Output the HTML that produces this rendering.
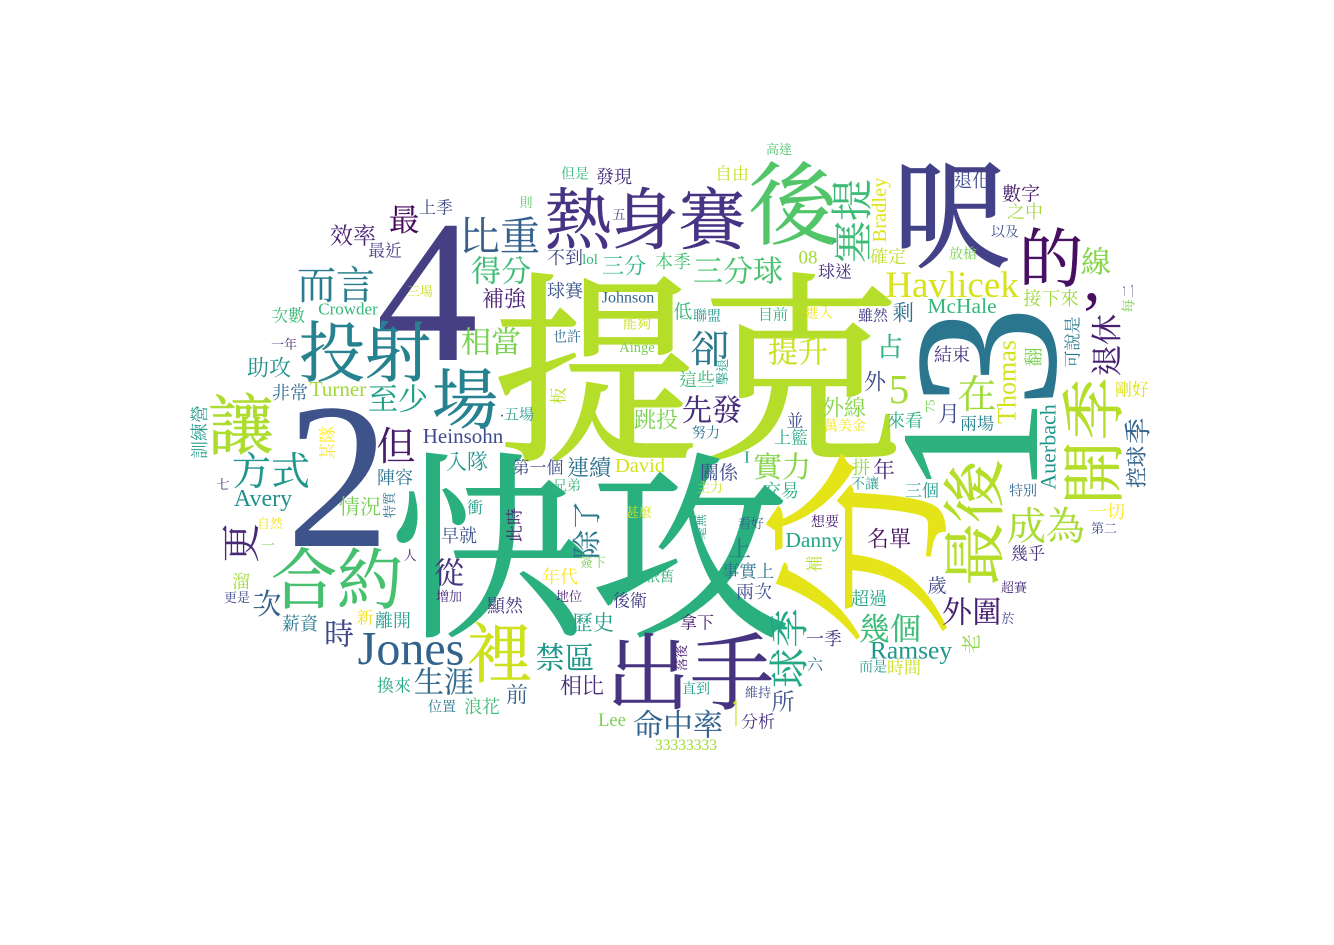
<!DOCTYPE html>
<html lang="zh-Hant">
<head>
<meta charset="utf-8">
<title>Word cloud</title>
<style>
html,body{margin:0;padding:0;background:#fff;}
svg{display:block;}
text{font-family:"Noto Serif CJK SC","Liberation Serif",serif;text-anchor:middle;fill:currentColor;stroke:currentColor;}
.xl text{stroke-width:1.6;}
.lg text{stroke-width:.5;}
.md text{stroke-width:.15;}
.sm text{stroke-width:0;}
text.l{font-family:"Liberation Serif",serif;stroke-width:0;}
</style>
</head>
<body>
<svg width="1334" height="945" viewBox="0 0 1334 945" xmlns="http://www.w3.org/2000/svg">
<rect width="1334" height="945" fill="#ffffff"/>
<g class="xl">
<text x="698" y="367" dy=".38em" font-size="205" color="#b5de2b">提克</text>
<text x="590" y="545" dy=".38em" font-size="200" color="#2ab07f">快攻</text>
<text transform="translate(856 548) rotate(-90)" dy=".38em" font-size="196" color="#e5e419">分</text>
<text x="951" y="213" dy=".38em" font-size="118" color="#434187">呎</text>
<text class="l" x="338" y="546" font-size="208" color="#3e5389">2</text>
<text class="l" x="427" y="360" font-size="204" color="#463f83">4</text>
<text class="l" transform="translate(1055 357) rotate(-90)" font-size="205" color="#2a768e">3</text>
<text class="l" transform="translate(1037 447) rotate(-90)" font-size="200" color="#2db27d">1</text>
</g>
<g class="lg">
<text x="793" y="203" dy=".38em" font-size="90" color="#52c569">後</text>
<text x="645" y="218" dy=".38em" font-size="67" color="#473383">熱身賽</text>
<text x="690" y="671" dy=".38em" font-size="84" color="#463480">出手</text>
<text x="1051" y="257" dy=".38em" font-size="64" color="#470e61">的</text>
<text x="365" y="351" dy=".38em" font-size="66" color="#26828e">投射</text>
<text x="465" y="398" dy=".38em" font-size="66" color="#26828e">場</text>
<text x="241" y="424" dy=".38em" font-size="66" color="#addc30">讓</text>
<text x="337" y="578" dy=".38em" font-size="66" color="#46c06f">合約</text>
<text x="500" y="652" dy=".38em" font-size="66" color="#cde11d">裡</text>
<text class="l" x="411" y="650" dy=".3em" font-size="48" color="#33638d">Jones</text>
<text transform="translate(1092 441) rotate(-90)" dy=".38em" font-size="64" color="#b5de2b">開季</text>
<text transform="translate(973 523) rotate(-90)" dy=".38em" font-size="63" color="#b5de2b">最後</text>
<text class="l" x="1092" y="300" font-size="70" color="#470e61">,</text>
</g>
<g class="md">
<text x="500" y="235" dy=".38em" font-size="40" color="#35608d">比重</text>
<text x="336" y="284" dy=".38em" font-size="39" color="#287d8e">而言</text>
<text x="271" y="470" dy=".38em" font-size="39" color="#1f978b">方式</text>
<text x="1046" y="525" dy=".38em" font-size="39" color="#a8db34">成為</text>
<text x="396" y="445" dy=".38em" font-size="39" color="#481a6c">但</text>
<text x="710" y="348" dy=".38em" font-size="39" color="#2a788e">卻</text>
<text x="977" y="393" dy=".38em" font-size="39" color="#a0da39">在</text>
<text transform="translate(851 221) rotate(-90)" dy=".38em" font-size="42" color="#3bbb75">塞提</text>
<text transform="translate(788 648) rotate(-90)" dy=".38em" font-size="40" color="#22a884">球季</text>
<text transform="translate(240 543) rotate(-90)" dy=".38em" font-size="39" color="#482878">更</text>
<text class="l" x="952" y="285" dy=".33em" font-size="37" color="#d8e219">Havlicek</text>
<text transform="translate(1106 345) rotate(-90)" dy=".38em" font-size="31" color="#481f70">退休</text>
<text x="890" y="628" dy=".38em" font-size="31" color="#3bbb75">幾個</text>
<text x="501" y="270" dy=".38em" font-size="30" color="#3bbb75">得分</text>
<text x="738" y="270" dy=".38em" font-size="30" color="#4ac16d">三分球</text>
<text x="404" y="219" dy=".38em" font-size="31" color="#450a5c">最</text>
<text x="491" y="341" dy=".38em" font-size="30" color="#7ad151">相當</text>
<text x="398" y="398" dy=".38em" font-size="30" color="#1fa088">至少</text>
<text x="798" y="351" dy=".38em" font-size="30" color="#c8e020">提升</text>
<text x="712" y="409" dy=".38em" font-size="30" color="#472d7b">先發</text>
<text x="444" y="681" dy=".38em" font-size="30" color="#31688e">生涯</text>
<text x="565" y="657" dy=".38em" font-size="30" color="#1f968b">禁區</text>
<text x="678" y="724" dy=".38em" font-size="30" color="#33638d">命中率</text>
<text x="972" y="611" dy=".38em" font-size="30" color="#481f70">外圍</text>
<text x="449" y="572" dy=".38em" font-size="30" color="#46337f">從</text>
<text x="339" y="633" dy=".38em" font-size="30" color="#3e4989">時</text>
<text x="782" y="466" dy=".38em" font-size="29" color="#86d549">實力</text>
<text x="1096" y="261" dy=".38em" font-size="30" color="#86d549">線</text>
<text transform="translate(586 530) rotate(-90)" dy=".38em" font-size="29" color="#2a788e">除了</text>
<text x="267" y="603" dy=".38em" font-size="29" color="#35608d">次</text>
<text transform="translate(737 713) rotate(-90)" dy=".38em" font-size="29" color="#c8e020">一</text>
<text class="l" transform="translate(1007 382) rotate(-90)" dy=".33em" font-size="26" color="#d2e21b">Thomas</text>
<text class="l" x="911" y="652" dy=".26em" font-size="25.5" color="#1f968b">Ramsey</text>
<text x="890" y="346" dy=".38em" font-size="26" color="#2db27d">占</text>
<text class="l" x="899" y="403" font-size="41" color="#a8db34">5</text>
<text transform="translate(1137 431) rotate(-90)" dy=".38em" font-size="27" color="#33638d">季</text>
<text transform="translate(1136 467) rotate(-90)" dy=".38em" font-size="21" color="#33638d">控球</text>
<text class="l" transform="translate(1048 447) rotate(-90)" dy=".33em" font-size="22" color="#1f968b">Auerbach</text>
<text class="l" transform="translate(880 210) rotate(-90)" dy=".28em" font-size="20.5" color="#e2e418">Bradley</text>
</g>
<g class="sm">
<text x="436" y="207" dy=".38em" font-size="17" color="#3e4989">上季</text>
<text x="353" y="235" dy=".38em" font-size="23" color="#481f70">效率</text>
<text x="385" y="250" dy=".38em" font-size="17" color="#433e85">最近</text>
<text x="504" y="298" dy=".38em" font-size="22" color="#481f70">補強</text>
<text x="420" y="291" dy=".38em" font-size="13" color="#c8e020">三場</text>
<text x="288" y="315" dy=".38em" font-size="17" color="#3aba76">次數</text>
<text class="l" x="348" y="309" dy=".33em" font-size="17" color="#35b779">Crowder</text>
<text x="284" y="344" dy=".38em" font-size="13" color="#482878">一年</text>
<text x="269" y="367" dy=".38em" font-size="22" color="#21918c">助攻</text>
<text class="l" x="338" y="389" dy=".33em" font-size="21" color="#a0da39">Turner</text>
<text x="290" y="392" dy=".38em" font-size="18" color="#31688e">非常</text>
<text transform="translate(199 432) rotate(-90)" dy=".38em" font-size="18" color="#2a9d8e">訓練營</text>
<text transform="translate(327 443) rotate(-90)" dy=".38em" font-size="17" color="#fde725">某隊</text>
<text class="l" x="463" y="436" dy=".33em" font-size="21" color="#3e4c8a">Heinsohn</text>
<text x="519" y="414" dy=".38em" font-size="15" color="#2a9d8e">五場</text>
<text class="l" x="502" y="421" font-size="16" color="#3e4c8a">·</text>
<text x="779" y="149" dy=".38em" font-size="13" color="#4ac16d">高達</text>
<text x="575" y="173" dy=".38em" font-size="14" color="#35b779">但是</text>
<text x="614" y="176" dy=".38em" font-size="18" color="#46307e">發現</text>
<text x="732" y="173" dy=".38em" font-size="17" color="#c2df23">自由</text>
<text x="526" y="202" dy=".38em" font-size="13" color="#5cc863">則</text>
<text x="619" y="214" dy=".38em" font-size="13" color="#46327e">五</text>
<text x="565" y="257" dy=".38em" font-size="18" color="#414487">不到</text>
<text class="l" x="590" y="259" dy=".33em" font-size="15" color="#35b779">lol</text>
<text x="624" y="265" dy=".38em" font-size="22" color="#2fb47c">三分</text>
<text x="673" y="261" dy=".38em" font-size="18" color="#44bf70">本季</text>
<text class="l" x="808" y="257" dy=".33em" font-size="19" color="#a0da39">08</text>
<text x="835" y="271" dy=".38em" font-size="17" color="#46327e">球迷</text>
<text x="565" y="290" dy=".38em" font-size="18" color="#3b528b">球賽</text>
<text class="l" x="628" y="297" dy=".33em" font-size="16" color="#33638d">Johnson</text>
<text x="683" y="311" dy=".38em" font-size="19" color="#35b779">低</text>
<text x="707" y="315" dy=".38em" font-size="14" color="#1f968b">聯盟</text>
<text x="773" y="314" dy=".38em" font-size="15" color="#2fb47c">目前</text>
<text x="819" y="312" dy=".38em" font-size="14" color="#f1e51d">進入</text>
<text x="637" y="323" dy=".38em" font-size="14" color="#c8e020">能夠</text>
<text x="567" y="336" dy=".38em" font-size="14" color="#2f6c8e">也許</text>
<text class="l" x="637" y="348" dy=".28em" font-size="14.5" color="#7ad151">Ainge</text>
<text x="697" y="379" dy=".38em" font-size="18" color="#3bbb75">這些</text>
<text transform="translate(722 372) rotate(-90)" dy=".38em" font-size="13" color="#2a9d8e">擊退</text>
<text transform="translate(558 396) rotate(-90)" dy=".38em" font-size="17" color="#bddf26">板</text>
<text x="656" y="419" dy=".38em" font-size="22" color="#7ad151">跳投</text>
<text x="795" y="420" dy=".38em" font-size="17" color="#3e4989">並</text>
<text x="706" y="432" dy=".38em" font-size="14" color="#2c728e">努力</text>
<text x="791" y="437" dy=".38em" font-size="17" color="#22a884">上籃</text>
<text x="972" y="180" dy=".38em" font-size="18" color="#3e4c8a">退化</text>
<text x="1021" y="193" dy=".38em" font-size="19" color="#481b6d">數字</text>
<text x="1025" y="211" dy=".38em" font-size="18" color="#a0da39">之中</text>
<text x="1005" y="231" dy=".38em" font-size="14" color="#3e4c8a">以及</text>
<text x="888" y="256" dy=".38em" font-size="18" color="#bddf26">確定</text>
<text x="963" y="253" dy=".38em" font-size="14" color="#7ad151">放槍</text>
<text x="1051" y="298" dy=".38em" font-size="18.5" color="#9bd93c">接下來</text>
<text transform="translate(1128 291) rotate(-90)" dy=".38em" font-size="14" color="#414487">二</text>
<text transform="translate(1128 306) rotate(-90)" dy=".38em" font-size="14" color="#7ad151">每</text>
<text class="l" x="962" y="306" dy=".33em" font-size="21.5" color="#35b779">McHale</text>
<text x="873" y="315" dy=".38em" font-size="15" color="#433e85">雖然</text>
<text x="903" y="312" dy=".38em" font-size="22" color="#2c728e">剩</text>
<text x="875" y="381" dy=".38em" font-size="22" color="#3e4989">外</text>
<text x="952" y="354" dy=".38em" font-size="18" color="#46327e">結束</text>
<text transform="translate(1033 357) rotate(-90)" dy=".38em" font-size="19" color="#7ad151">翻</text>
<text transform="translate(1072 342) rotate(-90)" dy=".38em" font-size="17" color="#2a788e">可說是</text>
<text x="1132" y="389" dy=".38em" font-size="17" color="#dde318">剛好</text>
<text x="844" y="407" dy=".38em" font-size="22" color="#86d549">外線</text>
<text x="845" y="425" dy=".38em" font-size="14" color="#f1e51d">萬美金</text>
<text x="949" y="413" dy=".38em" font-size="22" color="#3e4a89">月</text>
<text x="905" y="420" dy=".38em" font-size="18" color="#28ae80">來看</text>
<text class="l" transform="translate(930 406) rotate(-90)" dy=".33em" font-size="13" color="#7ad151">75</text>
<text x="977" y="423" dy=".38em" font-size="17" color="#26828e">兩場</text>
<text x="467" y="461" dy=".38em" font-size="21" color="#1f968b">入隊</text>
<text x="395" y="477" dy=".38em" font-size="18" color="#2c728e">陣容</text>
<text x="223" y="484" dy=".38em" font-size="13" color="#482878">七</text>
<text class="l" x="263" y="499" dy=".3em" font-size="24" color="#21918c">Avery</text>
<text x="360" y="506" dy=".38em" font-size="21" color="#75d054">情況</text>
<text transform="translate(389 505) rotate(-90)" dy=".38em" font-size="13" color="#2c728e">特質</text>
<text x="475" y="507" dy=".38em" font-size="16" color="#1f9e89">衝</text>
<text transform="translate(514 525) rotate(-90)" dy=".38em" font-size="17" color="#481f70">此時</text>
<text x="459" y="535" dy=".38em" font-size="18" color="#3b528b">早就</text>
<text x="270" y="523" dy=".38em" font-size="13" color="#f1e51d">自然</text>
<text x="268" y="545" dy=".38em" font-size="14" color="#7ad151">一</text>
<text x="410" y="555" dy=".38em" font-size="13" color="#482878">人</text>
<text x="241" y="581" dy=".38em" font-size="18" color="#a0da39">溜</text>
<text x="237" y="597" dy=".38em" font-size="13" color="#3e4989">更是</text>
<text x="449" y="596" dy=".38em" font-size="13" color="#472d7b">增加</text>
<text x="505" y="605" dy=".38em" font-size="18" color="#443983">顯然</text>
<text x="365" y="617" dy=".38em" font-size="17" color="#f1e51d">新</text>
<text x="393" y="620" dy=".38em" font-size="18" color="#2a9d8e">離開</text>
<text x="300" y="623" dy=".38em" font-size="18" color="#2a788e">薪資</text>
<text x="394" y="685" dy=".38em" font-size="17" color="#26a784">換來</text>
<text x="442" y="706" dy=".38em" font-size="14" color="#2a788e">位置</text>
<text x="482" y="706" dy=".38em" font-size="18" color="#3bbb75">浪花</text>
<text x="538" y="467" dy=".38em" font-size="17" color="#3e4c8a">第一個</text>
<text x="589" y="467" dy=".38em" font-size="22" color="#2d708e">連續</text>
<text class="l" x="640" y="465" dy=".33em" font-size="20.5" color="#d2e21b">David</text>
<text class="l" x="747" y="457" dy=".33em" font-size="17" color="#1fa187">I</text>
<text x="719" y="472" dy=".38em" font-size="19" color="#3e4c8a">關係</text>
<text x="567" y="485" dy=".38em" font-size="14" color="#35b779">兄弟</text>
<text x="710" y="487" dy=".38em" font-size="13" color="#d2e21b">主力</text>
<text x="781" y="490" dy=".38em" font-size="18" color="#29af7f">交易</text>
<text x="639" y="512" dy=".38em" font-size="13" color="#d2e21b">甚麼</text>
<text transform="translate(700 527) rotate(-90)" dy=".38em" font-size="13" color="#2a9d8e">毫無</text>
<text x="751" y="523" dy=".38em" font-size="13" color="#35608d">看好</text>
<text x="825" y="521" dy=".38em" font-size="14" color="#481f70">想要</text>
<text class="l" x="814" y="541" dy=".28em" font-size="21.5" color="#22a884">Danny</text>
<text x="740" y="548" dy=".38em" font-size="22" color="#2c728e">上</text>
<text x="593" y="562" dy=".38em" font-size="13" color="#7ad151">簽下</text>
<text transform="translate(814 564) rotate(-90)" dy=".38em" font-size="17" color="#b5de2b">補</text>
<text x="748" y="571" dy=".38em" font-size="17.5" color="#2c728e">事實上</text>
<text x="560" y="576" dy=".38em" font-size="18" color="#fde725">年代</text>
<text x="660" y="576" dy=".38em" font-size="14" color="#2db27d">依舊</text>
<text x="569" y="596" dy=".38em" font-size="13" color="#481f70">地位</text>
<text x="754" y="591" dy=".38em" font-size="18" color="#3e4c8a">兩次</text>
<text x="630" y="600" dy=".38em" font-size="17" color="#433e85">後衛</text>
<text x="593" y="622" dy=".38em" font-size="21" color="#1f9e89">歷史</text>
<text x="697" y="622" dy=".38em" font-size="17" color="#481f70">拿下</text>
<text x="869" y="598" dy=".38em" font-size="18" color="#21a585">超過</text>
<text x="824" y="638" dy=".38em" font-size="18" color="#46327e">一季</text>
<text transform="translate(681 658) rotate(-90)" dy=".38em" font-size="13" color="#481f70">落後</text>
<text x="582" y="685" dy=".38em" font-size="22" color="#472d7b">相比</text>
<text x="517" y="694" dy=".38em" font-size="22" color="#33638d">前</text>
<text x="815" y="664" dy=".38em" font-size="16" color="#2a788e">六</text>
<text x="696" y="688" dy=".38em" font-size="14" color="#1f9e89">直到</text>
<text x="758" y="692" dy=".38em" font-size="13" color="#3e4c8a">維持</text>
<text x="783" y="701" dy=".38em" font-size="23" color="#3b528b">所</text>
<text x="758" y="721" dy=".38em" font-size="17" color="#46327e">分析</text>
<text class="l" x="612" y="720" dy=".33em" font-size="18.5" color="#7ad151">Lee</text>
<text class="l" x="686" y="745" dy=".33em" font-size="15.5" color="#a0da39">33333333</text>
<text x="861" y="467" dy=".38em" font-size="18" color="#90d743">拼</text>
<text x="884" y="469" dy=".38em" font-size="22" color="#472d7b">年</text>
<text x="865" y="483" dy=".38em" font-size="14" color="#2a9d8e">不讓</text>
<text x="922" y="490" dy=".38em" font-size="17" color="#2a9d8e">三個</text>
<text x="1023" y="490" dy=".38em" font-size="14" color="#31688e">特別</text>
<text x="1107" y="511" dy=".38em" font-size="18" color="#fde725">一切</text>
<text x="1104" y="528" dy=".38em" font-size="13" color="#3e4c8a">第二</text>
<text x="889" y="538" dy=".38em" font-size="22" color="#440f5f">名單</text>
<text x="1028" y="553" dy=".38em" font-size="17" color="#46327e">幾乎</text>
<text x="1014" y="587" dy=".38em" font-size="13" color="#472d7b">超賽</text>
<text x="937" y="585" dy=".38em" font-size="19" color="#3e4a89">歲</text>
<text x="1008" y="618" dy=".38em" font-size="13" color="#3e4989">於</text>
<text transform="translate(971 644) rotate(-90)" dy=".38em" font-size="20" color="#8ed645">老</text>
<text x="873" y="666" dy=".38em" font-size="14" color="#2a9d8e">而是</text>
<text x="904" y="667" dy=".38em" font-size="17" color="#c8e020">時間</text>
</g>
</svg>
</body>
</html>
